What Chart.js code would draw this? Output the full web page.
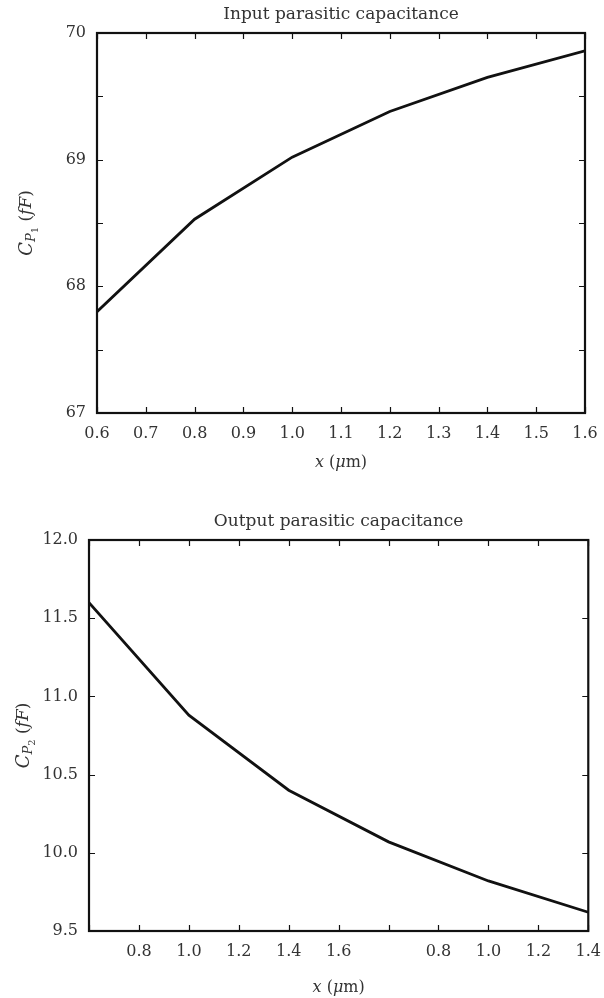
<!DOCTYPE html>
<html>
<head>
<meta charset="utf-8">
<script src="https://cdn.jsdelivr.net/npm/chart.js@4/dist/chart.umd.min.js"></script>
<style>
  body { margin: 0; background: #fff; width: 604px; height: 998px; position: relative; overflow: hidden; }
  canvas { position: absolute; left: 0; }
  #c1 { top: 0; }
  #c2 { top: 507px; }
</style>
</head>
<body>
<canvas id="c1" width="604" height="490"></canvas>
<canvas id="c2" width="604" height="491"></canvas>
<script>
// data
var inX = [0.6, 0.8, 1.0, 1.2, 1.4, 1.6];
var inCap = [67.8, 68.53, 69.02, 69.38, 69.65, 69.86];
var outX = [0.6, 0.8, 1.0, 1.2, 1.4, 1.6];
var outCap = [11.6, 10.88, 10.4, 10.07, 9.82, 9.62];
var outTickLabels = ['', '0.8', '1.0', '1.2', '1.4', '1.6', '', '0.8', '1.0', '1.2', '1.4'];

var serif = "'DejaVu Serif', 'Liberation Serif', serif";
var textColor = '#333';

function pts(xs, ys) {
  return xs.map(function(x, i) { return {x: x, y: ys[i]}; });
}

// draws pieces of mixed-style text centred at (cx, cy)
function drawPieces(ctx, pieces, cx, cy) {
  var w = 0;
  pieces.forEach(function(p) { ctx.font = p.f; w += ctx.measureText(p.t).width; });
  var x = cx - w / 2;
  ctx.textAlign = 'left';
  ctx.textBaseline = 'middle';
  pieces.forEach(function(p) {
    ctx.font = p.f;
    ctx.fillText(p.t, x, cy + (p.dy || 0));
    x += ctx.measureText(p.t).width;
  });
}

// box frame, inward ticks, titles
var frame = {
  id: 'frame',
  afterDraw: function(chart, args, opts) {
    var ctx = chart.ctx, a = chart.chartArea, sx = chart.scales.x, sy = chart.scales.y;
    ctx.save();
    ctx.strokeStyle = '#111';
    ctx.lineWidth = 1.2;
    ctx.beginPath();
    sx.ticks.forEach(function(t) {
      var p = Math.round(sx.getPixelForValue(t.value)) + 0.5;
      ctx.moveTo(p, a.bottom); ctx.lineTo(p, a.bottom - 6);
      ctx.moveTo(p, a.top); ctx.lineTo(p, a.top + 6);
    });
    sy.ticks.forEach(function(t) {
      var p = Math.round(sy.getPixelForValue(t.value)) + 0.5;
      ctx.moveTo(a.left, p); ctx.lineTo(a.left + 6, p);
      ctx.moveTo(a.right, p); ctx.lineTo(a.right - 6, p);
    });
    ctx.stroke();
    ctx.lineWidth = 2.2;
    ctx.strokeRect(a.left, a.top, a.right - a.left, a.bottom - a.top);

    ctx.fillStyle = textColor;
    ctx.font = '17px ' + serif;
    ctx.textAlign = 'center';
    ctx.textBaseline = 'middle';
    ctx.fillText(opts.title, (a.left + a.right) / 2, 15);

    drawPieces(ctx, [
      {t: 'x', f: 'italic 16px ' + serif},
      {t: ' (', f: '16px ' + serif},
      {t: 'μ', f: 'italic 16px ' + serif},
      {t: 'm)', f: '16px ' + serif}
    ], (a.left + a.right) / 2, a.bottom + opts.xTitleGap);

    ctx.save();
    ctx.translate(opts.yTitleX, (a.top + a.bottom) / 2);
    ctx.rotate(-Math.PI / 2);
    drawPieces(ctx, [
      {t: 'C', f: 'italic 18px ' + serif},
      {t: 'P', f: 'italic 13px ' + serif, dy: 5},
      {t: opts.sub, f: '10px ' + serif, dy: 8},
      {t: ' (', f: '17px ' + serif},
      {t: 'fF', f: 'italic 17px ' + serif},
      {t: ')', f: '17px ' + serif}
    ], 0, 0);
    ctx.restore();
    ctx.restore();
  }
};

function makeChart(id, data, o) {
  var canvas = document.getElementById(id);
  return new Chart(canvas.getContext('2d'), {
    type: 'line',
    data: {
      datasets: [{
        data: data,
        borderColor: '#111',
        borderWidth: 2.8,
        pointRadius: 0,
        tension: 0,
        fill: false
      }]
    },
    options: {
      responsive: false,
      animation: false,
      layout: { padding: { left: 0, right: o.right, top: 33, bottom: 0 } },
      plugins: {
        legend: { display: false },
        tooltip: { enabled: false },
        frame: o.frame
      },
      scales: {
        x: {
          type: 'linear',
          min: 0.6, max: 1.6,
          grid: { display: false },
          border: { display: false },
          ticks: {
            stepSize: 0.1,
            autoSkip: false,
            maxRotation: 0,
            padding: 3,
            color: textColor,
            font: { family: serif, size: 16 },
            callback: o.xLabel
          },
          afterFit: function(s) { s.height = o.xHeight; }
        },
        y: {
          min: o.ymin, max: o.ymax,
          grid: { display: false },
          border: { display: false },
          ticks: {
            stepSize: 0.5,
            padding: 3,
            color: textColor,
            font: { family: serif, size: 16 },
            callback: o.yLabel
          },
          afterFit: function(s) { s.width = o.left; }
        }
      }
    },
    plugins: [frame]
  });
}

makeChart('c1', pts(inX, inCap), {
  right: 19, left: 97, xHeight: 77,
  ymin: 67, ymax: 70,
  xLabel: function(v) { return v.toFixed(1); },
  yLabel: function(v) { return Math.abs(v - Math.round(v)) < 1e-6 ? String(Math.round(v)) : ''; },
  frame: { title: 'Input parasitic capacitance', sub: '1', xTitleGap: 50, yTitleX: 27 }
});

makeChart('c2', pts(outX, outCap), {
  right: 15, left: 89, xHeight: 67,
  ymin: 9.5, ymax: 12,
  xLabel: function(v) { return outTickLabels[Math.round((v - 0.6) / 0.1)]; },
  yLabel: function(v) { return v.toFixed(1); },
  frame: { title: 'Output parasitic capacitance', sub: '2', xTitleGap: 57, yTitleX: 24 }
});
</script>
</body>
</html>
